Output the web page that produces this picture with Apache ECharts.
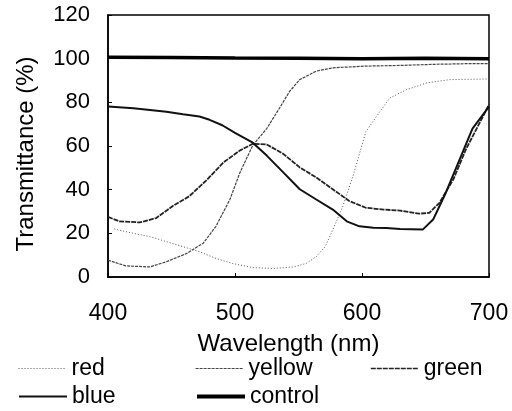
<!DOCTYPE html>
<html>
<head>
<meta charset="utf-8">
<script src="https://cdn.jsdelivr.net/npm/echarts@6/dist/echarts.min.js"></script>
<style>
  html, body { margin: 0; padding: 0; background: #fff; }
  #chart { width: 512px; height: 411px; }
</style>
</head>
<body>
<div id="chart"></div>
<script>
// Filter transmittance spectra (wavelength in nm, transmittance in %)
const redWl = [405, 420, 433, 446, 459, 472, 485, 498, 514, 530, 546, 556, 564, 571, 577, 585, 593, 603, 614, 622, 635, 651, 669, 700];
const redT  = [22, 20, 18.5, 16.2, 13.9, 11.6, 8.5, 6.2, 4.3, 3.9, 4.6, 6.2, 9.3, 13.9, 21.6, 32.5, 46.4, 66.5, 75.7, 82, 85.8, 88.9, 90.4, 90.7];

const yellowWl = [400, 414, 433, 446, 462, 475, 485, 496, 504, 514, 525, 535, 543, 551, 564, 577, 603, 630, 656, 682, 700];
const yellowT  = [7.7, 5.1, 4.6, 7, 10.8, 15.5, 23.2, 35.5, 48, 60.3, 68, 77.3, 85, 90.4, 94.3, 95.8, 96.6, 96.9, 97.4, 97.7, 97.7];

const greenWl = [400, 409, 425, 438, 451, 464, 477, 491, 504, 514, 525, 538, 551, 564, 577, 590, 603, 617, 630, 645, 653, 661, 672, 682, 693, 700];
const greenT  = [27.5, 25.5, 25, 27, 32.5, 37, 44, 52.5, 58, 61, 60.7, 56.4, 50.2, 45.6, 40.2, 34.8, 31.7, 30.9, 30.4, 29, 29.4, 34, 44.8, 58.7, 71, 79];

const blueWl = [400, 420, 433, 446, 459, 472, 480, 490, 500, 514, 525, 538, 551, 564, 577, 588, 598, 609, 619, 630, 648, 656, 666, 677, 687, 700];
const blueT  = [78.1, 77.3, 76.5, 75.7, 74.5, 73.5, 72, 69.5, 66, 61.5, 55.6, 47.9, 40.2, 35.5, 30.9, 25.5, 23.2, 22.6, 22.4, 22, 21.8, 26.3, 38.6, 54, 68, 78];

const controlWl = [400, 450, 500, 550, 600, 650, 700];
const controlT  = [100.6, 100.5, 100.3, 100.2, 100, 100.2, 100];

const xTicks = [400, 500, 600, 700];
const yTicks = [0, 20, 40, 60, 80, 100, 120];

const pairs = (xs, ys) => xs.map((x, i) => [x, ys[i]]);

const FONT = '"Liberation Sans", Arial, sans-serif';

const chart = echarts.init(document.getElementById('chart'));

function lineSeries(name, xs, ys, style) {
  return {
    name: name,
    type: 'line',
    data: pairs(xs, ys),
    symbol: 'none',
    smooth: false,
    lineStyle: style,
    itemStyle: { color: style.color },
    z: style.z || 2
  };
}

// one legend entry per slot, laid out as a 3-column, 2-row key
function legendEntry(name, left, top, lineWidth) {
  return {
    data: [name],
    left: left,
    top: top,
    padding: 0,
    itemWidth: 48,
    itemHeight: 14,
    itemStyle: { opacity: 0 },
    lineStyle: { width: lineWidth },
    textStyle: { fontSize: 23, color: '#000', fontFamily: FONT },
    selectedMode: false
  };
}

chart.setOption({
  animation: false,
  backgroundColor: '#fff',
  grid: {
    left: 108, right: 23, top: 15, bottom: 134,
    show: true, borderColor: '#000', borderWidth: 1.5
  },
  xAxis: {
    type: 'value',
    min: xTicks[0], max: xTicks[xTicks.length - 1], interval: 100,
    name: 'Wavelength (nm)',
    nameLocation: 'middle',
    nameGap: 55,
    nameTextStyle: { fontSize: 24, color: '#000', fontFamily: FONT, padding: [0, 20, 0, 0] },
    axisLine: { lineStyle: { color: '#000', width: 1.5 } },
    axisTick: { inside: true, length: 4, lineStyle: { color: '#000' } },
    axisLabel: { fontSize: 23, color: '#000', fontFamily: FONT, margin: 25 },
    splitLine: { show: false }
  },
  yAxis: {
    type: 'value',
    min: yTicks[0], max: yTicks[yTicks.length - 1], interval: 20,
    name: 'Transmittance (%)',
    nameLocation: 'middle',
    nameGap: 70,
    nameTextStyle: { fontSize: 24, color: '#000', fontFamily: FONT, padding: [0, 16, 0, 0] },
    axisLine: { lineStyle: { color: '#000', width: 1.5 } },
    axisTick: { inside: true, length: 4, lineStyle: { color: '#000' } },
    axisLabel: { fontSize: 22, color: '#000', fontFamily: FONT, margin: 18 },
    splitLine: { show: false }
  },
  legend: [
    legendEntry('red', 18, 357, 1),
    legendEntry('yellow', 195, 357, 1.2),
    legendEntry('green', 370, 357, 1.6),
    legendEntry('blue', 18, 385, 2),
    legendEntry('control', 195, 385, 4)
  ],
  series: [
    lineSeries('red', redWl, redT, { color: '#555', width: 1, type: [1, 2] }),
    lineSeries('yellow', yellowWl, yellowT, { color: '#444', width: 1.2, type: [3, 1] }),
    lineSeries('green', greenWl, greenT, { color: '#222', width: 1.8, type: [5, 1] }),
    lineSeries('blue', blueWl, blueT, { color: '#111', width: 2, type: 'solid' }),
    lineSeries('control', controlWl, controlT, { color: '#000', width: 3.5, type: 'solid', z: 3 })
  ]
});
</script>
</body>
</html>
